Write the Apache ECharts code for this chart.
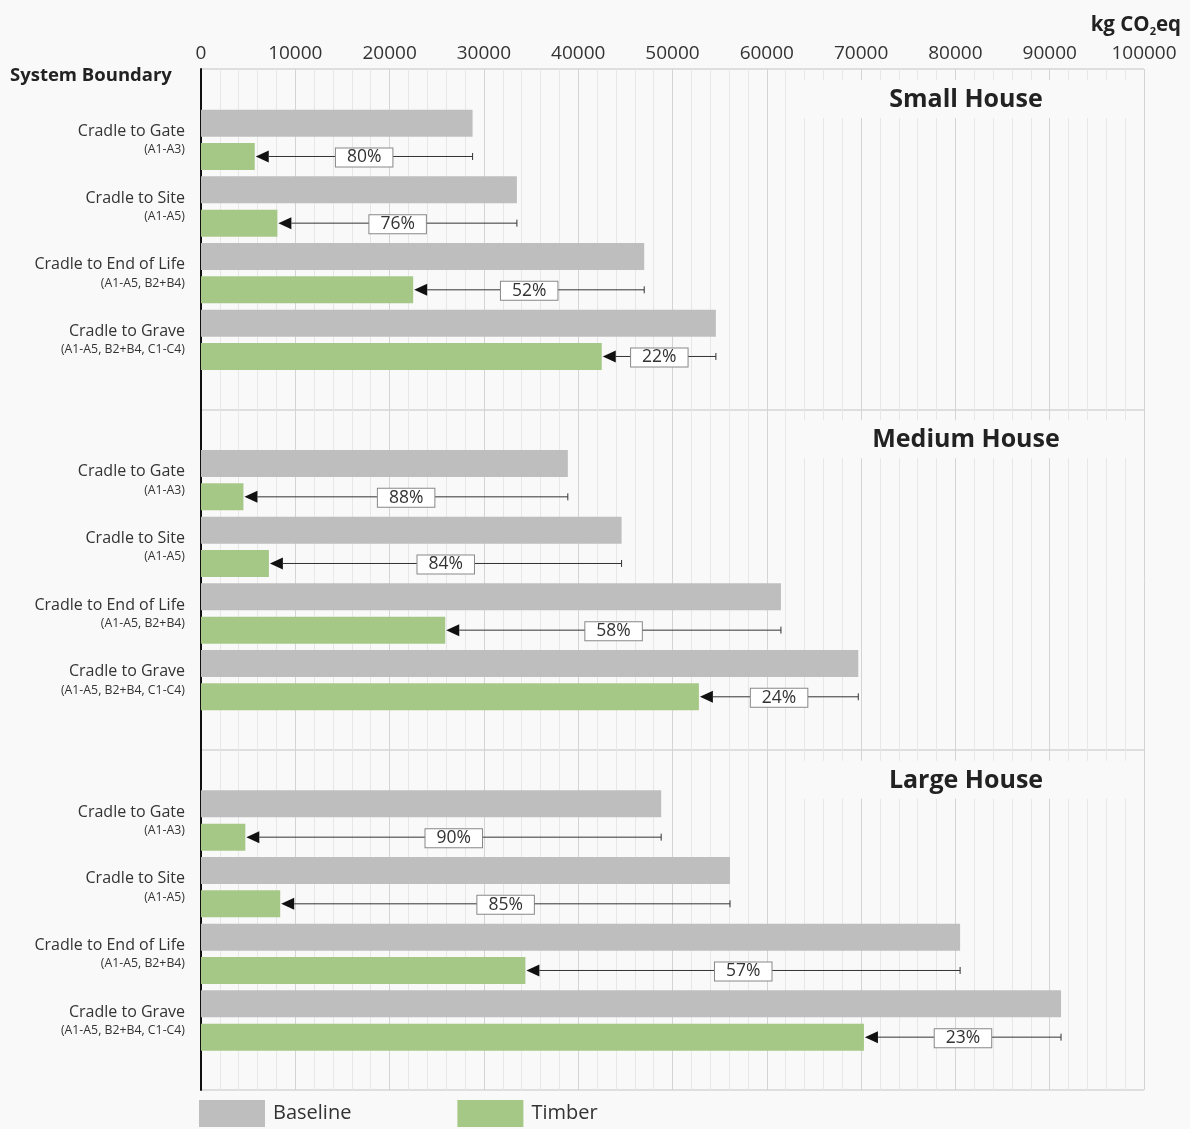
<!DOCTYPE html>
<html><head><meta charset="utf-8">
<script src="https://cdn.jsdelivr.net/npm/echarts@6/dist/echarts.min.js"></script>
<style>html,body{margin:0;padding:0;background:#fff}#c{width:1190px;height:1129px}</style>
</head><body><div id="c"></div>
<script>
// ---- data ----
const sections = ['Small House', 'Medium House', 'Large House'];
const categories = ['Cradle to Gate', 'Cradle to Site', 'Cradle to End of Life', 'Cradle to Grave'];
const stages = ['(A1-A3)', '(A1-A5)', '(A1-A5, B2+B4)', '(A1-A5, B2+B4, C1-C4)'];
const xMin = 0, xMax = 100000, xInterval = 10000;

const baselineSmall = [28800, 33500, 47000, 54600];
const timberSmall = [5700, 8100, 22500, 42500];
const reductionSmall = ['80%', '76%', '52%', '22%'];

const baselineMedium = [38900, 44600, 61500, 69700];
const timberMedium = [4500, 7200, 25900, 52800];
const reductionMedium = ['88%', '84%', '58%', '24%'];

const baselineLarge = [48800, 56100, 80500, 91200];
const timberLarge = [4700, 8400, 34400, 70300];
const reductionLarge = ['90%', '85%', '57%', '23%'];

const baselineSets = [baselineSmall, baselineMedium, baselineLarge];
const timberSets = [timberSmall, timberMedium, timberLarge];
const reductionSets = [reductionSmall, reductionMedium, reductionLarge];

// ---- layout / style ----
const FONT = '"Open Sans", "Noto Sans", sans-serif';
const TXT = '#333';
const GRAY = '#bebebe';
const GREEN = '#a6c887';
const W = 1190, H = 1129;
const LEFT = 201, RIGHT = W - 1144, TOP = 69, BOTTOM_Y = 1090;
const SEC_H = (BOTTOM_Y - TOP) / 3;
const ROW_H = 33.33;

const chart = echarts.init(document.getElementById('c'), null, {renderer: 'canvas'});

const grids = [{left: LEFT, right: RIGHT, top: TOP, bottom: H - BOTTOM_Y}];
const xAxes = [{
  gridIndex: 0, type: 'value', position: 'top', min: xMin, max: xMax, interval: xInterval,
  axisLine: {show: false}, axisTick: {show: false},
  axisLabel: {fontSize: 19, color: TXT, fontFamily: FONT, margin: 6, formatter: v => String(v)},
  splitLine: {show: true, lineStyle: {color: '#d4d4d4', width: 1}},
  minorTick: {show: false, splitNumber: 5},
  minorSplitLine: {show: true, lineStyle: {color: '#e7e7e7', width: 1}}
}];
const yAxes = [{
  gridIndex: 0, type: 'value', min: 0, max: 3, interval: 1, inverse: true,
  axisLabel: {show: false}, axisTick: {show: false},
  axisLine: {show: true, onZero: false, lineStyle: {color: '#111', width: 2}},
  splitLine: {show: true, lineStyle: {color: '#d4d4d4', width: 1.5}}
}];
const series = [];
const graphics = [];

sections.forEach((name, s) => {
  const gi = s + 1;
  const secTop = TOP + s * SEC_H;
  grids.push({left: LEFT, right: RIGHT, top: secTop + 37.5, height: ROW_H * 8});
  xAxes.push({gridIndex: gi, type: 'value', min: xMin, max: xMax, show: false});
  const rowAxis = yAxes.length;
  const rows = categories.flatMap(c => [c + ' Baseline', c + ' Timber']);
  yAxes.push({gridIndex: gi, type: 'category', data: rows, inverse: true, show: false});
  yAxes.push({
    gridIndex: gi, type: 'category', data: categories, inverse: true, position: 'left',
    axisLine: {show: false}, axisTick: {show: false}, splitLine: {show: false},
    axisLabel: {
      margin: 16, align: 'right',
      formatter: (v, idx) => '{a|' + v + '}\n{b|' + stages[idx] + '}',
      rich: {
        a: {fontSize: 16, lineHeight: 20, color: TXT, fontFamily: FONT, align: 'right'},
        b: {fontSize: 12.3, lineHeight: 17, color: TXT, fontFamily: FONT, align: 'right'}
      }
    }
  });
  const base = baselineSets[s], tim = timberSets[s], red = reductionSets[s];
  series.push({
    name: 'Baseline', type: 'bar', xAxisIndex: gi, yAxisIndex: rowAxis,
    barWidth: 27, barGap: '-100%', color: GRAY, itemStyle: {color: GRAY},
    data: base.map((v, i) => [v, 2 * i]), silent: true
  });
  series.push({
    name: 'Timber', type: 'bar', xAxisIndex: gi, yAxisIndex: rowAxis,
    barWidth: 27, barGap: '-100%', color: GREEN, itemStyle: {color: GREEN},
    data: tim.map((v, i) => [v, 2 * i + 1]), silent: true
  });
  series.push({
    type: 'custom', xAxisIndex: gi, yAxisIndex: rowAxis, silent: true, z: 5,
    encode: {x: [0, 1], y: 2},
    data: base.map((v, i) => [v, tim[i], 2 * i + 1]),
    renderItem: (params, api) => {
      const pb = api.coord([api.value(0), api.value(2)]);
      const pt = api.coord([api.value(1), api.value(2)]);
      const y = pt[1], xs = pt[0] + 1, xe = pb[0];
      const ah = 13, aw = 6;
      return {type: 'group', children: [
        {type: 'line', shape: {x1: xs + ah, y1: y, x2: xe, y2: y}, style: {stroke: '#333', lineWidth: 1}},
        {type: 'line', shape: {x1: xe, y1: y - 3.5, x2: xe, y2: y + 3.5}, style: {stroke: '#333', lineWidth: 1}},
        {type: 'polygon', shape: {points: [[xs, y], [xs + ah, y - aw], [xs + ah, y + aw]]}, style: {fill: '#111'}},
        {type: 'text', x: (xs + xe) / 2, y: y + 1, style: {
          text: red[params.dataIndex], align: 'center', verticalAlign: 'middle',
          fontSize: 17.5, lineHeight: 18, fontFamily: FONT, fill: TXT,
          backgroundColor: '#fff', borderColor: '#888', borderWidth: 1, padding: [0, 11]
        }}
      ]};
    }
  });
  // title backdrop + title
  graphics.push({type: 'rect', z: 1, shape: {x: 790, y: secTop + 11, width: 1143 - 790, height: 38},
    style: {fill: '#f9f9f9'}, silent: true});
  graphics.push({type: 'text', z: 2, x: 966, y: secTop + 31, style: {
    text: name, align: 'center', verticalAlign: 'middle', fontSize: 25, fontWeight: 'bold',
    fontFamily: FONT, fill: '#222'}});
});

graphics.push({type: 'text', z: 2, left: 10, top: 66, style: {
  text: 'System Boundary', fontSize: 18.5, fontWeight: 'bold', fontFamily: FONT, fill: '#222'}});
graphics.push({type: 'text', z: 2, right: 9, top: 15, style: {
  text: 'kg CO{s|2}eq', fontSize: 20.5, fontWeight: 'bold', fontFamily: FONT, fill: '#222',
  rich: {s: {fontSize: 11, fontWeight: 'bold', fontFamily: FONT, fill: '#222', padding: [13, 0, 0, 0]}}}});

chart.setOption({
  backgroundColor: '#f9f9f9',
  animation: false,
  grid: grids,
  xAxis: xAxes,
  yAxis: yAxes,
  series: series,
  graphic: graphics,
  legend: {
    data: ['Baseline', 'Timber'], left: 199, top: 1100, icon: 'rect', padding: 0,
    itemWidth: 66, itemHeight: 27, itemGap: 106, selectedMode: false,
    textStyle: {fontSize: 20, color: TXT, fontFamily: FONT, width: 82, padding: [0, 0, 0, 3]}
  }
});
</script></body></html>
